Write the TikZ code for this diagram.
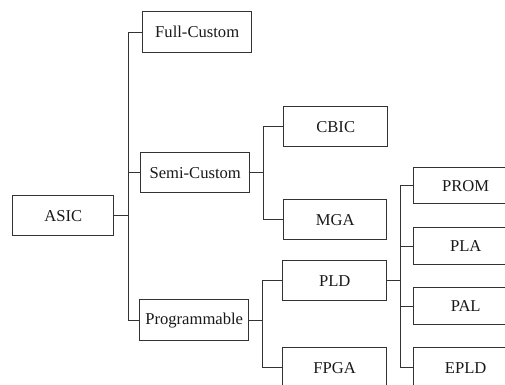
\documentclass[tikz,border=0pt]{standalone}
\usepackage{fontspec}
\setmainfont{Liberation Serif}
\tikzset{
  box/.style={draw=black!80, line width=1.4pt, anchor=north west, inner sep=0pt,
    minimum width=104pt, minimum height=40pt, font=\fontsize{16.6}{19}\selectfont, text=black!90},
  link/.style={draw=black!80, line width=1.4pt}
}
\begin{document}
\begin{tikzpicture}[x=1pt, y=-1pt]
    \useasboundingbox (0,0) rectangle (505,384);
    \clip (0,0) rectangle (505,384);

    % first level
    \node[box, minimum width=101pt] (asic) at (12,195) {ASIC};
    \node[box, minimum width=109pt, minimum height=41pt] (fullc) at (142,11) {Full-Custom};
    \node[box, minimum width=109pt] (semic) at (140,152) {Semi-Custom};
    \node[box, minimum width=109pt, minimum height=41pt] (prog) at (139,299) {Programmable};

    % second level
    \node[box] (cbic) at (283,106) {CBIC};
    \node[box, minimum width=103pt] (mga) at (283,199) {MGA};
    \node[box] (pld) at (282,260) {PLD};
    \node[box] (fpga) at (282,347) {FPGA};

    % PLD family
    \node[box, minimum height=36pt] (prom) at (413,167) {PROM};
    \node[box, minimum height=37pt] (pla) at (413,227) {PLA};
    \node[box, minimum height=37pt] (pal) at (413,287) {PAL};
    \node[box] (epld) at (413,347) {EPLD};

    % tree lines
    \foreach \c in {fullc,semic,prog}
        \draw[link] (asic.east) -- ++(14,0) |- (\c.west);
    \foreach \c in {cbic,mga}
        \draw[link] (semic.east) -- ++(13,0) |- (\c.west);
    \foreach \c in {pld,fpga}
        \draw[link] (prog.east) -- ++(13,0) |- (\c.west);
    \foreach \c in {prom,pla,pal,epld}
        \draw[link] (pld.east) -- ++(13,0) |- (\c.west);
\end{tikzpicture}
\end{document}
